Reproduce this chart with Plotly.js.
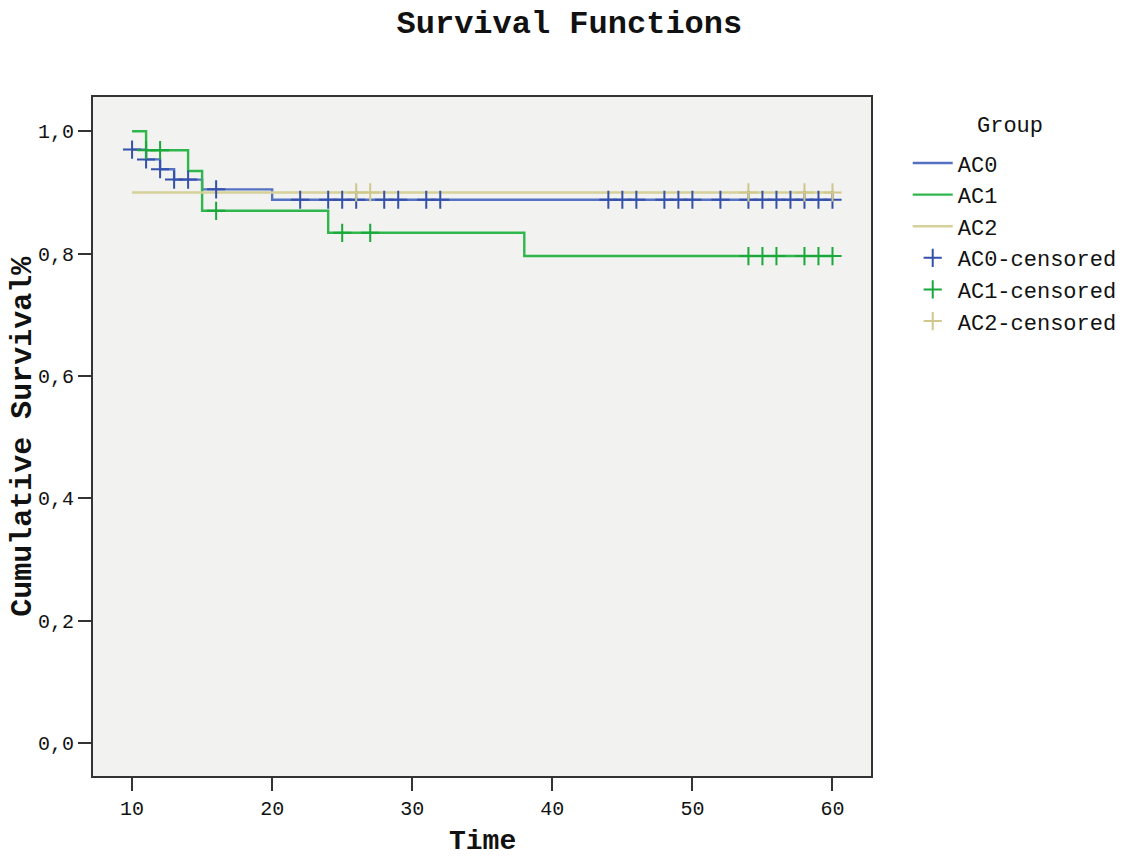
<!DOCTYPE html>
<html>
<head>
<meta charset="utf-8">
<script src="https://cdn.plot.ly/plotly-3.0.1.min.js"></script>
<style>html,body{margin:0;padding:0;background:#fff;}#chart{width:1123px;height:857px;}</style>
</head>
<body>
<div id="chart"></div>
<script>
// Step curves (time of event, survival after event)
const ac0Time = [10, 11, 12, 13, 15, 20, 60];
const ac0Surv = [0.970, 0.954, 0.938, 0.921, 0.905, 0.888, 0.888];
const ac1Time = [10, 11, 14, 15, 24, 38, 60];
const ac1Surv = [1.000, 0.969, 0.935, 0.870, 0.834, 0.796, 0.796];
const ac2Time = [10, 60];
const ac2Surv = [0.900, 0.900];

// Censored observations
const ac0CensTime = [10, 11, 12, 13, 14, 16, 22, 24, 25, 26, 28, 29, 31, 32, 44, 45, 46, 48, 49, 50, 52, 54, 55, 56, 57, 58, 59, 60];
const ac0CensSurv = [0.970, 0.954, 0.938, 0.921, 0.921, 0.905, 0.888, 0.888, 0.888, 0.888, 0.888, 0.888, 0.888, 0.888, 0.888, 0.888, 0.888, 0.888, 0.888, 0.888, 0.888, 0.888, 0.888, 0.888, 0.888, 0.888, 0.888, 0.888];
const ac1CensTime = [11, 12, 16, 25, 27, 54, 55, 56, 58, 59, 60];
const ac1CensSurv = [0.969, 0.969, 0.870, 0.834, 0.834, 0.796, 0.796, 0.796, 0.796, 0.796, 0.796];
const ac2CensTime = [26, 27, 54, 58, 60];
const ac2CensSurv = [0.900, 0.900, 0.900, 0.900, 0.900];

const groupNames = ['AC0', 'AC1', 'AC2'];
const xTicks = [10, 20, 30, 40, 50, 60];
const yTicks = [0, 0.2, 0.4, 0.6, 0.8, 1.0];

const lineColors = ['#5572c2', '#2fb64c', '#d6d09a'];
const markColors = ['#3450aa', '#19a83a', '#cfc78c'];

const mono = '"Liberation Mono", "DejaVu Sans Mono", monospace';

const lines = [[ac0Time, ac0Surv], [ac1Time, ac1Surv], [ac2Time, ac2Surv]];
const cens = [[ac0CensTime, ac0CensSurv], [ac1CensTime, ac1CensSurv], [ac2CensTime, ac2CensSurv]];

const traces = [];
lines.forEach((d, i) => {
  traces.push({
    x: d[0], y: d[1], type: 'scatter', mode: 'lines', name: groupNames[i],
    line: {shape: 'hv', color: lineColors[i], width: 2.4}
  });
});
cens.forEach((d, i) => {
  traces.push({
    x: d[0], y: d[1], type: 'scatter', mode: 'markers', name: groupNames[i] + '-censored',
    marker: {symbol: 'cross-thin', size: 13, color: markColors[i], line: {color: markColors[i], width: 2}}
  });
});

const layout = {
  width: 1123, height: 857,
  margin: {l: 93, r: 252, t: 97, b: 81, pad: 0, autoexpand: false},
  paper_bgcolor: '#ffffff',
  plot_bgcolor: '#f2f2f0',
  separators: ',.',
  title: {text: 'Survival Functions', font: {family: mono, size: 32, color: '#111', weight: 'bold'},
          x: 0.507, xref: 'container', xanchor: 'center', y: 0.974, yref: 'container', yanchor: 'middle'},
  xaxis: {
    range: [7.21, 62.75], tickvals: xTicks, ticks: 'outside', ticklen: 13, tickwidth: 2, tickcolor: '#333',
    showgrid: false, zeroline: false, showline: true, mirror: true, linecolor: '#333', linewidth: 2,
    tickfont: {family: mono, size: 20, color: '#111'},
    title: {text: ''}
  },
  yaxis: {
    range: [-0.054, 1.056], tickvals: yTicks, tickformat: '.1f', ticks: 'outside', ticklen: 13, tickwidth: 2, tickcolor: '#333',
    showgrid: false, zeroline: false, showline: true, mirror: true, linecolor: '#333', linewidth: 2,
    tickfont: {family: mono, size: 20, color: '#111'},
    title: {text: ''}
  },
  showlegend: true,
  legend: {
    xref: 'container', yref: 'container',
    x: 0.8083, y: 0.834, xanchor: 'left', yanchor: 'top',
    bgcolor: 'rgba(0,0,0,0)', borderwidth: 0,
    font: {family: mono, size: 22, color: '#111'},
    tracegroupgap: 0, itemwidth: 40
  },
  annotations: [
    {text: 'Group', xref: 'paper', yref: 'paper', x: 1.179, y: 0.956,
     xanchor: 'center', yanchor: 'middle', showarrow: false,
     font: {family: mono, size: 22, color: '#111'}},
    {text: '<b>Time</b>', xref: 'paper', yref: 'paper', x: 0.5, y: -0.097,
     xanchor: 'center', yanchor: 'middle', showarrow: false,
     font: {family: mono, size: 28, color: '#111'}},
    {text: '<b>Cumulative Survival%</b>', xref: 'paper', yref: 'paper', x: -0.091, y: 0.5,
     xanchor: 'center', yanchor: 'middle', showarrow: false, textangle: -90,
     font: {family: mono, size: 30, color: '#111'}}
  ]
};

Plotly.newPlot('chart', traces, layout, {displayModeBar: false, staticPlot: true});
</script>
</body>
</html>
